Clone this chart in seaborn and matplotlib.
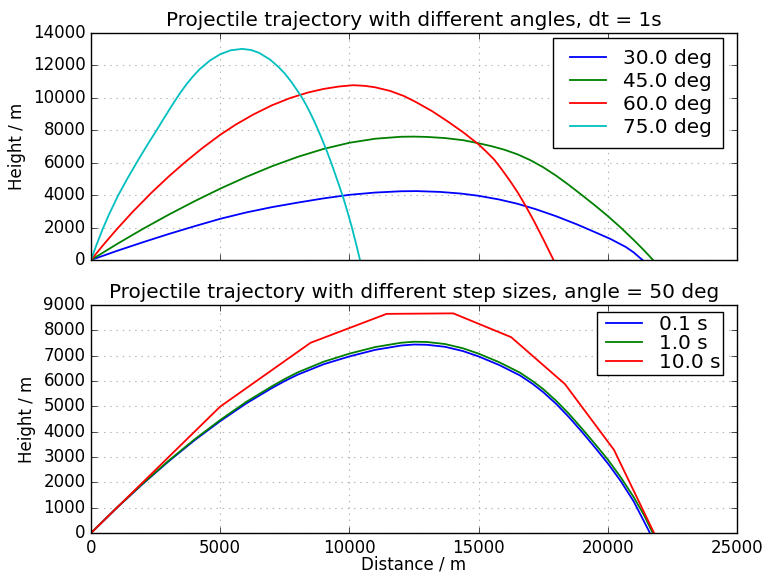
import matplotlib
matplotlib.use("Agg")
import matplotlib.pyplot as plt
from matplotlib.lines import Line2D
from matplotlib.legend_handler import HandlerLine2DCompound
import pandas as pd
import seaborn as sns

plt.style.use("classic")
plt.rcParams["font.family"] = ["DejaVu Sans"]

# ---------------- data ----------------
# Top panel: different launch angles, dt = 1 s
angle_labels = ["30.0 deg", "45.0 deg", "60.0 deg", "75.0 deg"]
angle_colors = ["b", "g", "r", "c"]

x30 = [0, 1000, 2000, 3000, 4000, 5000, 6000, 7000, 8000, 9000, 10000,
       11000, 12000, 12600, 13500, 14300, 15000, 15800, 16500, 17200, 18000,
       18800, 19500, 20100, 20700, 21000, 21340]
y30 = [0, 560, 1090, 1600, 2080, 2540, 2930, 3260, 3540, 3800, 4020,
       4160, 4240, 4250, 4200, 4100, 3960, 3730, 3470, 3140, 2700,
       2200, 1720, 1300, 800, 470, 0]

x45 = [0, 1000, 2000, 3000, 4000, 5000, 6000, 7000, 8000, 9000, 10000,
       11000, 12000, 12500, 13000, 13700, 14400, 15000, 15500, 16000, 16500,
       17000, 17500, 18000, 18500, 19000, 19500, 20000, 20500, 21000, 21400,
       21750]
y45 = [0, 980, 1910, 2790, 3620, 4400, 5120, 5780, 6360, 6850, 7230,
       7480, 7600, 7610, 7590, 7520, 7390, 7200, 7020, 6800, 6520,
       6160, 5720, 5200, 4620, 4000, 3370, 2710, 2000, 1240, 600,
       0]

x60 = [0, 500, 1000, 1600, 2340, 3000, 3630, 4300, 5000, 5600, 6290, 7000,
       7710, 8400, 9000, 9600, 10150, 10600, 11000, 11570, 12100, 12600,
       13200, 13800, 14400, 15000, 15300, 15600, 15900, 16220, 16540, 16840,
       17150, 17500, 17900]
y60 = [0, 975, 1900, 2950, 4150, 5140, 6020, 6890, 7720, 8350, 8980, 9540,
       9990, 10330, 10550, 10700, 10780, 10740, 10650, 10430, 10120, 9720,
       9180, 8550, 7880, 7130, 6680, 6200, 5580, 4870, 4100, 3280,
       2380, 1290, 0]

x75 = [0, 200, 450, 700, 1050, 1400, 1820, 2200, 2530, 2850, 3200, 3450,
       3700, 3950, 4200, 4600, 5000, 5400, 5840, 6200, 6500, 6930, 7260,
       7500, 7750, 7950, 8160, 8330, 8500, 8650, 8800, 8970, 9130, 9290,
       9450, 9610, 9770, 9930, 10090, 10250, 10410]
y75 = [0, 880, 1900, 2820, 3980, 5000, 6150, 7150, 7980, 8810, 9700, 10300,
       10850, 11330, 11760, 12300, 12690, 12930, 13020, 12950, 12780, 12360,
       11900, 11500, 10990, 10530, 10030, 9550, 9020, 8520, 7980, 7330, 6700,
       6020, 5300, 4560, 3800, 2950, 2050, 1050, 0]

# Bottom panel: different step sizes, angle = 50 deg
step_labels = ["0.1 s", "1.0 s", "10.0 s"]
step_colors = ["b", "g", "r"]

x_dt01 = [0, 1000, 2000, 3000, 4000, 5000, 6000, 7000, 7500, 8000, 9000,
          10000, 11000, 12000, 12500, 13000, 13700, 14400, 15000, 15800,
          16600, 17100, 17500, 18000, 18500, 19000, 19500, 20000, 20500,
          21000, 21350, 21630]
y_dt01 = [0, 995, 1935, 2825, 3655, 4415, 5110, 5720, 6000, 6250, 6660,
          6970, 7230, 7400, 7440, 7430, 7350, 7180, 6970, 6630,
          6220, 5880, 5560, 5100, 4570, 3990, 3380, 2750, 2050,
          1250, 560, 0]

x_dt1 = [0, 1000, 2000, 3000, 4000, 5000, 6000, 7000, 7500, 8000, 9000,
         10000, 11000, 12000, 12500, 13000, 13700, 14400, 15000, 15800,
         16600, 17100, 17500, 18000, 18500, 19000, 19500, 20000, 20500,
         21000, 21400, 21740]
y_dt1 = [0, 1000, 1950, 2850, 3690, 4460, 5170, 5790, 6080, 6340, 6760,
         7080, 7340, 7510, 7550, 7540, 7460, 7290, 7080, 6740,
         6330, 5990, 5680, 5220, 4700, 4120, 3520, 2900, 2200,
         1420, 710, 0]

x_dt10 = [0, 5000, 8500, 11440, 14020, 16260, 18340, 20240, 21790]
y_dt10 = [0, 4990, 7510, 8650, 8670, 7730, 5880, 3280, 0]

# ---------------- figure ----------------
W, H = 764, 572
fig = plt.figure(figsize=(W / 100, H / 100), dpi=100, facecolor="white")

def box(l, t, r, b):
    return [l / W, 1 - b / H, (r - l) / W, (b - t) / H]

ax1 = fig.add_axes(box(91, 33, 737, 260))
ax2 = fig.add_axes(box(91, 305, 737, 533))

top_series = [(x30, y30), (x45, y45), (x60, y60), (x75, y75)]
for (xs, ys), lab, col in zip(top_series, angle_labels, angle_colors):
    df = pd.DataFrame({"Distance": xs, "Height": ys})
    sns.lineplot(data=df, x="Distance", y="Height", ax=ax1, color=col,
                 label=lab, sort=False, estimator=None, linewidth=1.3)

bot_series = [(x_dt01, y_dt01), (x_dt1, y_dt1), (x_dt10, y_dt10)]
for (xs, ys), lab, col in zip(bot_series, step_labels, step_colors):
    df = pd.DataFrame({"Distance": xs, "Height": ys})
    sns.lineplot(data=df, x="Distance", y="Height", ax=ax2, color=col,
                 label=lab, sort=False, estimator=None, linewidth=1.3)

for ax in (ax1, ax2):
    ax.set_facecolor("white")
    ax.set_xlim(0, 25000)
    ax.grid(True, linestyle=(0, (1, 3.5)), color="0.7", linewidth=0.8)
    ax.set_axisbelow(True)
    ax.set_ylabel("Height / m", fontsize=12)
    ax.tick_params(direction="in", top=True, right=True, labelsize=12)

ax1.set_ylim(0, 14000)
ax1.set_yticks(range(0, 14001, 2000))
ax1.set_xticks(range(0, 25001, 5000))
ax1.set_xticklabels([])
ax1.set_xlabel("")
ax1.set_title("Projectile trajectory with different angles, dt = 1s",
              fontsize=14.4, pad=5)

ax2.set_ylim(0, 9000)
ax2.set_yticks(range(0, 9001, 1000))
ax2.set_xticks(range(0, 25001, 5000))
ax2.set_xlabel("Distance / m", fontsize=12, labelpad=-1)
ax2.set_title("Projectile trajectory with different step sizes, angle = 50 deg",
              fontsize=14.4, pad=5)

hmap = {Line2D: HandlerLine2DCompound()}
ax1.legend(loc="upper right", bbox_to_anchor=(723.3 / W, 1 - 38 / H),
           bbox_transform=fig.transFigure, borderaxespad=0, fontsize=14.4,
           fancybox=False, framealpha=1, edgecolor="black", numpoints=2,
           labelspacing=0.2, handlelength=2.4, handletextpad=0.55,
           borderpad=0.55, handler_map=hmap)
ax2.legend(loc="upper right", bbox_to_anchor=(723.3 / W, 1 - 311.7 / H),
           bbox_transform=fig.transFigure, borderaxespad=0, fontsize=14.4,
           fancybox=False, framealpha=1, edgecolor="black", numpoints=2,
           labelspacing=0.0, handlelength=2.4, handletextpad=0.55,
           borderpad=0.15, handler_map=hmap)

fig.savefig("out.png", dpi=100, facecolor="white")
